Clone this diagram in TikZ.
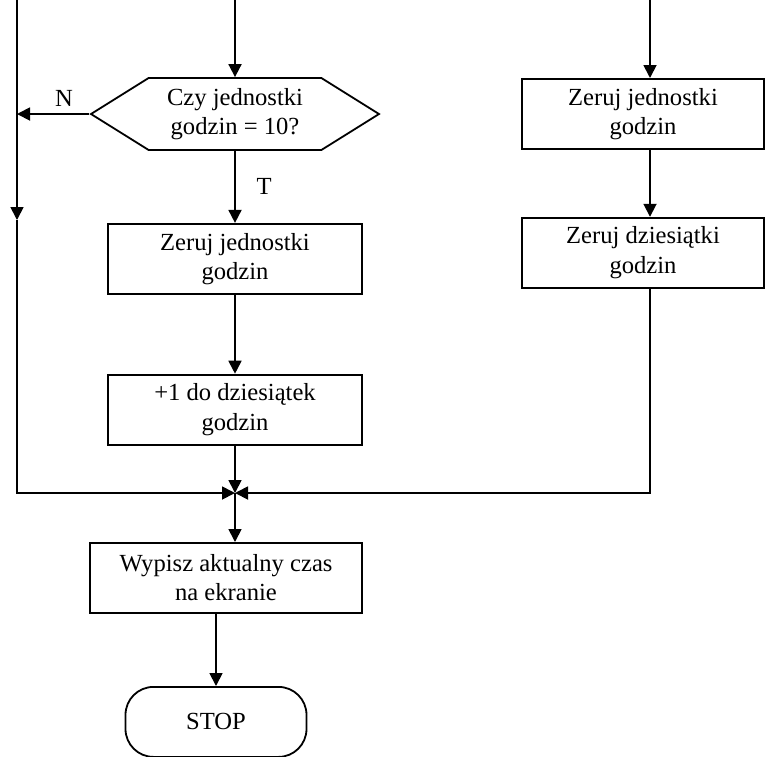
\documentclass[tikz,border=0pt]{standalone}
\usepackage{fontspec}
\setmainfont{Liberation Serif}
\usetikzlibrary{shapes.symbols,arrows.meta,positioning}

\begin{document}
\begin{tikzpicture}[
    x=0.5pt, y=-0.5pt,
    node distance=36pt,
    txt/.style={font=\fontsize{12.3pt}{14.6pt}\selectfont},
    low/.style={execute at begin node={\rule{0pt}{12.5pt}}},
    box/.style={rectangle, draw, line width=0.9pt, align=center, minimum height=35pt, minimum width=127pt, inner sep=2pt, txt, low},
    ask/.style={signal, signal to=west and east, signal pointer angle=64, draw, line width=0.9pt, align=center, minimum height=36pt, minimum width=144pt, inner sep=2pt, txt, low},
    term/.style={rectangle, rounded corners=14pt, draw, line width=0.9pt, align=center, minimum height=35pt, minimum width=90.5pt, txt},
    arr/.style={-{Triangle[length=6.5pt,width=6.5pt]}, line width=0.9pt}
]
    \useasboundingbox (0,0) rectangle (766,756);

    \node [ask] (ask) at (235,114) {Czy jednostki\\godzin = 10?};
    \node [box, below=36pt of ask] (zeroJ) {Zeruj jednostki\\godzin};
    \node [box, below=39.5pt of zeroJ] (plusD) {+1 do dziesiątek\\godzin};
    \node [box, minimum width=136pt, anchor=north] (show) at (226,542) {Wypisz aktualny czas\\na ekranie};
    \node [term, anchor=north] (stop) at (216,686) {STOP};
    \node [box, minimum width=121pt, anchor=north] (zeroJR) at (643,78) {Zeruj jednostki\\godzin};
    \node [box, minimum width=121pt, below=33.5pt of zeroJR] (zeroDR) {Zeruj dziesiątki\\godzin};

    \coordinate (inL) at (17,0);
    \coordinate (inM) at (235,0);
    \coordinate (inR) at (650,0);
    \coordinate (midL) at (17,220);
    \coordinate (join) at (235,493);

    % main column
    \draw [arr] (inM) -- (ask);
    \draw [arr] (ask.west) -- (ask.west -| inL) node [txt, above, pos=0.35] {N};
    \draw [arr] (ask) -- (zeroJ) node [txt, midway, right=7pt] {T};
    \draw [arr] (zeroJ) -- (plusD);
    \draw [arr] (plusD) -- (join);
    \draw [arr] (join) -- (show.north -| join);
    \draw [arr] (stop.north |- show.south) -- (stop);

    % left branch
    \draw [arr] (inL) -- (midL);
    \draw [arr] (midL) |- (join);

    % right column
    \draw [arr] (inR) -- (inR |- zeroJR.north);
    \draw [arr] (inR |- zeroJR.south) -- (inR |- zeroDR.north);
    \draw [arr] (inR |- zeroDR.south) |- (join);
\end{tikzpicture}
\end{document}
